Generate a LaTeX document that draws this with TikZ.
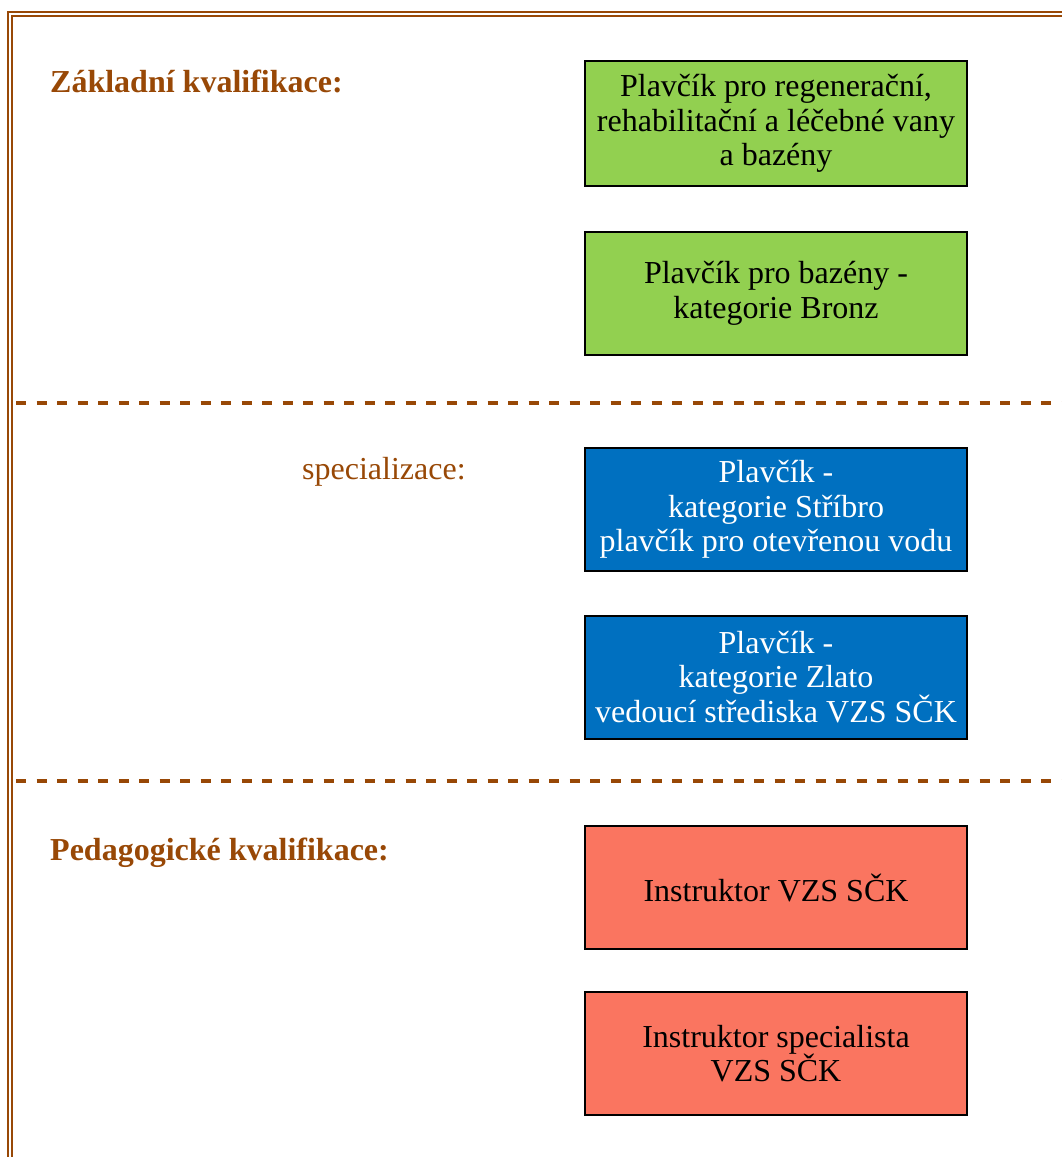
\documentclass[tikz,border=0pt]{standalone}
\usepackage{fontspec}
\setmainfont{Liberation Serif}
\definecolor{hnede}{HTML}{984806}
\definecolor{zelena}{HTML}{92D050}
\definecolor{modra}{HTML}{0070C0}
\definecolor{cervena}{HTML}{FA7560}

\begin{document}
\begin{tikzpicture}[x=1pt,y=-1pt,
  box/.style={draw=black,line width=2pt,minimum width=382pt,minimum height=123pt,inner sep=0pt,align=center,font=\fontsize{32}{34.5}\selectfont},
  nadpis/.style={anchor=base west,inner sep=0pt,text=hnede,font=\fontsize{32}{34.5}\selectfont\bfseries},
  rez/.style={draw=hnede,line width=3.6pt,dash pattern=on 10pt off 10.5pt}]
  \useasboundingbox (0,0) rectangle (1062,1157);
  % double frame
  \path[draw=hnede,line width=2.4pt] (8,1180) -- (8,12) -- (1080,12);
  \path[draw=hnede,line width=2.4pt] (12,1180) -- (12,16) -- (1080,16);
  % headings
  \node[nadpis]                      (a) at (50, 92)   {Základní kvalifikace:};
  \node[nadpis,font=\fontsize{32}{34.5}\selectfont] (b) at (302, 479)  {specializace:};
  \node[nadpis]                      (c) at (50, 860)  {Pedagogické kvalifikace:};
  % boxes
  \node[box,fill=zelena,minimum height=125pt] (1) at (776, 123.5) {Plavčík pro regenerační,\\ rehabilitační a léčebné vany\\ a bazény};
  \node[box,fill=zelena]  (2) at (776, 293.5)  {Plavčík pro bazény -\\ kategorie Bronz};
  \node[box,fill=modra,text=white]   (3) at (776, 509.5)  {Plavčík -\\ kategorie Stříbro\\ plavčík pro otevřenou vodu};
  \node[box,fill=modra,text=white]   (4) at (776, 677)    {Plavčík -\\ kategorie Zlato\\ vedoucí střediska VZS SČK};
  \node[box,fill=cervena] (5) at (776, 887.5)  {Instruktor VZS SČK};
  \node[box,fill=cervena] (6) at (776, 1053.5) {Instruktor specialista\\ VZS SČK};
  % dividers
  \coordinate (r1a) at (16, 403);  \coordinate (r1b) at (1075, 403);
  \coordinate (r2a) at (16, 781);  \coordinate (r2b) at (1075, 781);
  \path[rez] (r1a) -- (r1b);
  \path[rez] (r2a) -- (r2b);
\end{tikzpicture}
\end{document}
